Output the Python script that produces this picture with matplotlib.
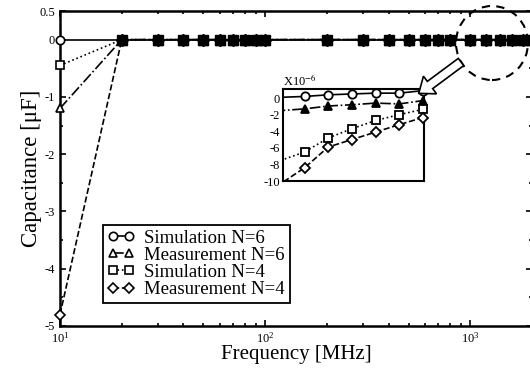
import numpy as np
import matplotlib
matplotlib.use("Agg")
import matplotlib.pyplot as plt
import matplotlib.patches as mpatches
from matplotlib.lines import Line2D
from matplotlib.transforms import IdentityTransform

plt.rcParams['font.family'] = ['Liberation Serif', 'DejaVu Serif']
plt.rcParams['mathtext.fontset'] = 'stix'
plt.rcParams['axes.unicode_minus'] = False

# frequency points [MHz]
freq_mhz = [10, 20, 30, 40, 50, 60, 70, 80, 90,
            100, 200, 300, 400, 500, 600, 700, 800,
            1000, 1200, 1400, 1600, 1800, 2000]

# capacitance [uF]
sim_n6 = [0.0, -5e-7, -3e-7, -2e-7, -1e-7, 0.0, 0.0, 0.0, 0.0,
          1e-7, 1e-7, 1e-7, 1e-7, 1e-7, 1e-7, 1e-7, 1e-7,
          2e-7, 4e-7, 5e-7, 6e-7, 6e-7, 9e-7]
meas_n6 = [-1.2, -4.0e-5, -2.5e-5, -1.8e-5, -1.2e-5, -9e-6, -7e-6, -6e-6, -5e-6,
           -4.5e-6, -3e-6, -2.5e-6, -2.2e-6, -2e-6, -1.8e-6, -1.6e-6, -1.5e-6,
           -1.3e-6, -0.95e-6, -0.8e-6, -0.6e-6, -0.7e-6, -0.3e-6]
sim_n4 = [-0.45, -1.5e-4, -9e-5, -6e-5, -4.5e-5, -3.6e-5, -3e-5, -2.6e-5, -2.3e-5,
          -2e-5, -1.3e-5, -1.1e-5, -1e-5, -9e-6, -8.5e-6, -8e-6, -7.5e-6,
          -6.5e-6, -4.8e-6, -3.7e-6, -2.7e-6, -2.0e-6, -1.35e-6]
meas_n4 = [-4.8, -3.0e-4, -1.8e-4, -1.2e-4, -9e-5, -7e-5, -6e-5, -5.2e-5, -4.6e-5,
           -4e-5, -2.2e-5, -1.7e-5, -1.4e-5, -1.25e-5, -1.15e-5, -1.08e-5, -1.03e-5,
           -8.4e-6, -5.9e-6, -5.0e-6, -4.1e-6, -3.2e-6, -2.35e-6]

labels = ['Simulation N=6', 'Measurement N=6', 'Simulation N=4', 'Measurement N=4']
series = [sim_n6, meas_n6, sim_n4, meas_n4]
markers = ['o', '^', 's', 'D']
styles = ['-', '-.', ':', '--']
msizes = [6, 6, 6, 5]

y_ticks = [0.5, 0, -1, -2, -3, -4, -5]
inset_ticks = [0, -2, -4, -6, -8, -10]
inset_range = (817, 2010)

fig = plt.figure(figsize=(5.30, 3.69), dpi=100)
ax = fig.add_axes([60 / 530, 1 - 326 / 369, 472 / 530, 315 / 369])

x = np.array(freq_mhz)
for vals, mk, ls, ms in zip(series, markers, styles, msizes):
    v = np.array(vals)
    ax.plot(x, v, linestyle=ls, color='black', lw=1.2, marker=mk, ms=ms,
            mfc='white', mec='black', mew=1.2, markevery=[0], clip_on=False, zorder=4)
    ax.plot(x[1:], v[1:], linestyle='none', marker=mk, ms=ms + 1,
            mfc='black', mec='black', zorder=3)

ax.set_xscale('log')
ax.set_xlim(10, 2000)
ax.set_ylim(-5, 0.5)
ax.set_yticks(y_ticks)
ax.set_yticklabels([f'{t:g}' for t in y_ticks])
ax.set_yticks(np.arange(-5, 0.5, 0.5), minor=True)
ax.tick_params(which='both', direction='in', top=True, right=True, labelsize=9, width=1.2)
ax.tick_params(which='major', length=4)
ax.tick_params(which='minor', length=2.5)
for s in ax.spines.values():
    s.set_linewidth(1.8)
ax.set_xlabel('Frequency [MHz]', fontsize=15, labelpad=0)
ax.set_ylabel('Capacitance [μF]', fontsize=16.5, labelpad=-2)

handles = [Line2D([], [], color='black', lw=1.2, linestyle=ls, marker=mk, ms=ms,
                  mfc='white', mec='black', mew=1.2)
           for mk, ls, ms in zip(markers, styles, msizes)]
leg = ax.legend(handles, labels, loc='upper left', bbox_to_anchor=(0.091, 0.321),
                borderaxespad=0, fontsize=13.5, numpoints=2, labelspacing=0.0,
                handlelength=1.45, handletextpad=0.5, borderpad=0.25,
                fancybox=False, framealpha=1, edgecolor='black')
leg.get_frame().set_linewidth(1.3)

# zoomed inset
ins = fig.add_axes([283 / 530, 1 - 181 / 369, 141 / 530, 92 / 369])
inside = (x >= inset_range[0]) & (x <= inset_range[1])
for vals, mk, ls, ms in zip(series, markers, styles, msizes):
    v = np.array(vals) * 1e6
    face = 'black' if mk == '^' else 'white'
    ins.plot(x, v, linestyle=ls, color='black', lw=1.2)
    ins.plot(x[inside], v[inside], linestyle='none', marker=mk, ms=ms,
             mfc=face, mec='black', mew=1.3, clip_on=False, zorder=3)
ins.set_xlim(*inset_range)
ins.set_ylim(-10, 1.1)
ins.set_xticks([])
ins.set_yticks(inset_ticks)
ins.set_yticklabels([f'{t:g}' for t in inset_ticks])
ins.tick_params(direction='in', labelsize=9, length=0, pad=2)
for s in ins.spines.values():
    s.set_linewidth(1.5)
ins.text(0.0, 1.0, r'X10$^{-6}$', transform=ins.transAxes, fontsize=9,
         ha='left', va='bottom')

# dashed circle around the zoomed region and hollow arrow
circ = mpatches.Ellipse((492, 369 - 43), 72, 74, fill=False, ec='black', lw=1.5,
                        linestyle=(0, (4, 3)), transform=IdentityTransform())
fig.patches.append(circ)
arr = mpatches.FancyArrow(461, 369 - 62, -31, -23, width=9, head_width=22, head_length=14,
                          fc='white', ec='black', lw=1.2, transform=IdentityTransform())
fig.patches.append(arr)

fig.savefig('out.png', dpi=100)
